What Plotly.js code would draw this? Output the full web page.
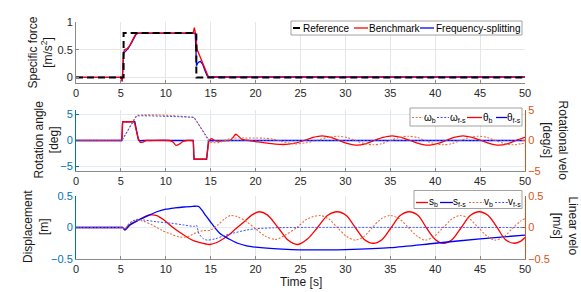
<!DOCTYPE html>
<html><head><meta charset="utf-8">
<script src="https://cdn.plot.ly/plotly-3.0.1.min.js"></script>
<style>html,body{margin:0;padding:0;background:#fff;}#chart{width:581px;height:292px;}</style>
</head><body><div id="chart"></div>
<script>
// ---------- DATA ----------
const xTicks = [0,5,10,15,20,25,30,35,40,45,50];

// Panel 1: specific force [m/s^2]
const tRef   = [0, 5.3, 5.3, 13.4, 13.4, 50];
const fRef   = [0, 0, 0.8, 0.8, 0, 0];
const tBench = [0, 5.0, 5.15, 5.3, 5.4, 5.7, 6.0, 6.3, 6.6, 6.85, 13.05, 13.18, 13.3, 13.5, 14.0, 14.4, 14.75, 15.0, 50];
const fBench = [0, 0, -0.07, 0.45, 0.5, 0.52, 0.58, 0.68, 0.77, 0.8, 0.8, 0.9, 0.8, 0.5, 0.3, 0.14, 0.01, 0, 0];
const tFS    = [0, 5.0, 5.15, 5.3, 5.5, 5.8, 6.1, 6.4, 6.7, 6.95, 13.28, 13.42, 13.6, 13.85, 14.1, 14.35, 14.6, 14.8, 15.2, 50];
const fFS    = [0, 0, -0.07, 0.44, 0.47, 0.52, 0.6, 0.7, 0.78, 0.8, 0.8, 0.21, 0.27, 0.29, 0.24, 0.13, 0.03, 0.01, 0.01, 0.01];

// Panel 2: rotation angle [deg] (left) and rotational velocity [deg/s] (right)
const tThFS = [0, 5.1, 5.2, 6.55, 6.95, 7.2, 7.5, 13.05, 13.15, 14.55, 14.75, 50];
const thFS  = [0, 0, 3.6, 3.6, 0.1, -0.05, 0, 0, -3.6, -3.6, 0, 0];
const tThB  = [0,5.05,5.1,5.2,5.25,6.4,6.45,6.95,7.15,7.45,7.8,8.2,10.4,10.8,11.15,11.5,11.9,12.3,13.0,13.05,13.15,13.2,14.45,14.5,14.85,15.1,15.4,15.8,16.5,17.2,17.5,17.8,18.1,18.5,19.0,20.0,21.0,22.2,23.4,24.4,25.4,26.4,27.4,28.4,29.3,30.3,31.3,32.3,33.2,34.2,35.2,36.2,37.2,38.2,39.2,40.2,41.2,42.1,43.1,44.1,45.1,46.1,47.1,48.1,49.0,50];
const thB   = [0,0,0,3.6,3.6,3.6,3.6,0.3,-0.35,-0.3,0,0,0,-0.3,-0.95,-0.7,-0.2,0,0,0,-3.6,-3.6,-3.6,-3.6,0,0.35,0.05,-0.1,-0.05,0.05,0.6,1.2,0.8,0.2,0.05,-0.2,-0.45,-0.7,-0.75,-0.5,0,0.6,0.9,0.6,0,-0.6,-0.9,-0.6,0,0.6,0.9,0.6,0,-0.6,-0.9,-0.6,0,0.6,0.9,0.6,0,-0.6,-0.9,-0.6,0,0.6];
const tOmB  = [0,5.05,5.1,6.75,6.85,7.5,9.0,10.5,11.5,12.5,13.05,13.15,14.75,14.85,15.3,16.0,16.7,17.4,18.5,20.0,21.0,22.0,23.0,24.4,25.5,26.8,28.0,29.2,30.2,31.1,32.1,33.1,34.1,35.0,36.0,37.0,38.0,38.9,39.9,40.9,41.9,42.8,43.8,44.8,45.8,46.7,47.7,48.7,49.5,50];
const omB   = [0,0,0,4.1,4.15,4.2,4.2,4.1,4.0,3.85,3.8,3.75,0.0,-0.2,-0.35,-0.3,0.1,0.38,0.4,0.4,0.38,0.2,-0.2,-0.55,-0.4,0,0.5,0.7,0.5,0,-0.5,-0.7,-0.5,0,0.5,0.7,0.5,0,-0.5,-0.7,-0.5,0,0.5,0.7,0.5,0,-0.5,-0.7,-0.55,-0.4];
const tOmFS = [0, 5.05, 5.1, 6.75, 6.85, 8.0, 10.0, 11.5, 12.5, 13.05, 13.15, 14.85, 14.95, 15.5, 16.5, 50];
const omFS  = [0, 0, 0, 4.0, 4.05, 4.05, 4.0, 3.95, 3.85, 3.8, 3.75, 0, -0.1, -0.1, 0, 0];

// Panel 3: displacement [m] (left) and linear velocity [m/s] (right)
const tSB = [0,5.1,5.2,5.45,5.8,6.3,7.0,7.6,8.3,9.0,9.8,10.8,11.8,12.8,13.8,14.9,15.8,16.8,17.8,18.8,19.6,20.4,21.3,22.5,23.6,24.7,25.8,26.9,28.0,29.1,30.1,31.1,32.1,33.1,34.1,35.1,36.1,37.1,38.1,39.0,40.0,40.9,41.9,42.9,43.9,44.9,45.9,46.9,47.8,48.8,49.5,50];
const sB  = [0,0,0,-0.03,0.02,0.07,0.12,0.17,0.2,0.19,0.12,0.0,-0.1,-0.19,-0.24,-0.27,-0.23,-0.14,-0.02,0.1,0.2,0.25,0.2,0.0,-0.2,-0.27,-0.18,0.0,0.19,0.25,0.19,0.0,-0.19,-0.25,-0.19,0.0,0.19,0.25,0.19,0.0,-0.19,-0.25,-0.19,0.0,0.19,0.25,0.19,0.0,-0.19,-0.25,-0.22,-0.16];
const tSFS = [0,5.1,5.2,5.45,5.7,6.0,6.5,7.0,7.9,9.0,10,11,12,13,13.5,13.7,14,14.5,15,15.5,16,16.5,17,18,19,20,22,24,26,28,30,35,40,45,50];
const sFS  = [0,0,0,-0.04,-0.01,0.04,0.08,0.12,0.18,0.25,0.29,0.31,0.325,0.335,0.34,0.33,0.28,0.18,0.085,-0.01,-0.09,-0.14,-0.18,-0.25,-0.29,-0.31,-0.335,-0.35,-0.355,-0.355,-0.35,-0.32,-0.25,-0.18,-0.12];
const tVB = [0,5.1,5.2,5.45,5.8,6.3,6.8,7.5,8.5,9.5,10.5,11.5,12.3,13.0,13.5,14.2,15.0,15.8,16.5,17.2,18.0,19.0,20.0,21.0,22.2,23.3,24.6,25.8,27.2,28.2,29.1,30.1,31.1,32.1,33.0,34.0,35.0,36.0,37.0,38.0,38.9,39.9,40.9,41.9,42.8,43.8,44.8,45.8,46.7,47.7,48.7,49.5,50];
const vB  = [0,0,0,-0.02,0.05,0.1,0.12,0.1,0.04,-0.04,-0.1,-0.15,-0.15,-0.11,-0.07,-0.05,-0.04,0.04,0.13,0.19,0.17,0.09,-0.02,-0.13,-0.19,-0.12,0.0,0.14,0.19,0.13,0.0,-0.14,-0.2,-0.14,0.0,0.14,0.19,0.14,0.0,-0.14,-0.2,-0.14,0.0,0.14,0.19,0.14,0.0,-0.14,-0.2,-0.14,0.0,0.1,0.14];
const tVFS = [0,5.1,5.2,5.45,5.8,6.3,6.8,7.5,9.0,10.5,12.0,13.2,13.4,13.7,14.2,14.6,15.5,16.5,17.5,19.0,20.0,22.0,24.0,50];
const vFS  = [0,0,0,-0.03,0.04,0.1,0.13,0.12,0.09,0.07,0.04,0.02,0.04,-0.1,-0.18,-0.2,-0.18,-0.13,-0.09,-0.04,-0.02,-0.005,0,0];

const names1 = ['Reference','Benchmark','Frequency-splitting'];
const names2 = ['ω<sub>b</sub>','ω<sub>f-s</sub>','θ<sub>b</sub>','θ<sub>f-s</sub>'];
const names3 = ['s<sub>b</sub>','s<sub>f-s</sub>','v<sub>b</sub>','v<sub>f-s</sub>'];

// ---------- STYLE ----------
const RED='#FF0000', BLUE='#0000FF', LBLUE='#3a4dff', ORANGE='#E8703C', BLK='#000000';
const AXBLUE='#0072BD', AXORANGE='#D95319', TXT='#262626', AXGRAY='#8a8a8a';
const FONT='Liberation Sans, Arial, Helvetica, sans-serif';
const DOT='2px,1.6px';

const W=581,H=292,ML=76,MR=56,MT=22,MB=33;
const PW=W-ML-MR, PH=H-MT-MB;
const fx = p => (p-ML)/PW;
const fy = p => (H-MB-p)/PH;

function tr(x,y,xa,ya,color,width,dash,shape,name){
  return {x:x,y:y,xaxis:xa,yaxis:ya,type:'scatter',mode:'lines',name:name,showlegend:false,
    hoverinfo:'skip',line:{color:color,width:width,dash:dash||'solid',shape:shape||'linear',smoothing:0.8}};
}
const data = [
  tr(tFS,fFS,'x','y',BLUE,1.3,'solid','linear',names1[2]),
  tr(tBench,fBench,'x','y',RED,1.3,'solid','linear',names1[1]),
  tr(tRef,fRef,'x','y',BLK,2,'7px,4px','linear',names1[0]),
  tr(tThFS,thFS,'x2','y2',BLUE,1.3,'solid','linear',names2[3]),
  tr(tThB,thB,'x2','y2',RED,1.3,'solid','spline',names2[2]),
  tr(tOmB,omB,'x2','y4',ORANGE,1.1,DOT,'spline',names2[0]),
  tr(tOmFS,omFS,'x2','y4',LBLUE,1,DOT,'linear',names2[1]),
  tr(tSB,sB,'x3','y3',RED,1.3,'solid','spline',names3[0]),
  tr(tSFS,sFS,'x3','y3',BLUE,1.3,'solid','spline',names3[1]),
  tr(tVB,vB,'x3','y5',ORANGE,1.1,DOT,'spline',names3[2]),
  tr(tVFS,vFS,'x3','y5',LBLUE,1,DOT,'spline',names3[3])
];

function xax(anchor){
  return {domain:[0,1],anchor:anchor,range:[0,50],tickvals:xTicks,showgrid:true,gridcolor:'#e6e6e6',gridwidth:1,
    zeroline:false,showline:true,linecolor:AXGRAY,linewidth:1,ticks:'inside',ticklen:3,tickcolor:AXGRAY,
    tickfont:{family:FONT,size:11,color:TXT},fixedrange:true};
}
function yax(dom,range,ticks,color,tickcolor,grid,side,overlay,anchor){
  const a={domain:dom,range:range,tickvals:ticks,showgrid:!!grid,gridcolor:grid||'#e6e6e6',zeroline:false,
    showline:true,linecolor:color,linewidth:1,ticks:'inside',ticklen:3,tickcolor:color,
    tickfont:{family:FONT,size:11,color:tickcolor},fixedrange:true,anchor:anchor};
  if(side){a.side=side;}
  if(overlay){a.overlaying=overlay;}
  return a;
}

const shapes=[], annotations=[];
function legend(box, items, cy, tcy){
  shapes.push({type:'rect',xref:'paper',yref:'paper',x0:fx(box[0]),x1:fx(box[1]),y0:fy(box[3]),y1:fy(box[2]),
    line:{color:AXGRAY,width:0.8},fillcolor:'#ffffff',layer:'above'});
  items.forEach(it=>{
    shapes.push({type:'line',xref:'paper',yref:'paper',x0:fx(it.a),x1:fx(it.b),y0:fy(cy),y1:fy(cy),
      line:{color:it.color,width:it.w,dash:it.dash||'solid'},layer:'above'});
    annotations.push({xref:'paper',yref:'paper',x:fx(it.tx),y:fy(tcy),xanchor:'left',yanchor:'middle',
      text:it.name,showarrow:false,borderpad:0,font:{family:FONT,size:10,color:'#000'}});
  });
}
legend([291,522,21,35],[
  {a:293,b:300,color:BLK,w:2,tx:302,name:names1[0]},
  {a:354,b:368,color:RED,w:1.3,tx:368,name:names1[1]},
  {a:420,b:434,color:BLUE,w:1.3,tx:435,name:names1[2]}
],28,28.5);
legend([410,522,108,126],[
  {a:412,b:423,color:ORANGE,w:1.1,dash:DOT,tx:423,name:names2[0]},
  {a:437,b:449,color:LBLUE,w:1,dash:DOT,tx:449,name:names2[1]},
  {a:467,b:482,color:RED,w:1.3,tx:482,name:names2[2]},
  {a:496,b:507,color:BLUE,w:1.3,tx:506,name:names2[3]}
],117.5,118);
legend([414,522,190.5,208.5],[
  {a:416,b:428,color:RED,w:1.3,tx:428,name:names3[0]},
  {a:440,b:453,color:BLUE,w:1.3,tx:452,name:names3[1]},
  {a:469,b:484,color:ORANGE,w:1.1,dash:DOT,tx:483,name:names3[2]},
  {a:495,b:508,color:LBLUE,w:1,dash:DOT,tx:507,name:names3[3]}
],202.5,202);

function title(text,cx,cy,angle){
  annotations.push({xref:'paper',yref:'paper',x:fx(cx),y:fy(cy),xanchor:'center',yanchor:'middle',
    text:text,textangle:angle,showarrow:false,font:{family:FONT,size:12,color:'#1a1a1a'}});
}
title('Specific force<br>[m/s<sup>2</sup>]',40,52.5,-90);
title('Rotation angle<br>[deg]',46.5,140,-90);
title('Displacement<br>[m]',36,227,-90);
title('Rotational velo<br>[deg/s]',554.5,140,90);
title('Linear velo<br>[m/s]',564.5,226,90);
title('Time [s]',300.5,282,0);

const layout = {
  width:W,height:H,margin:{l:ML,r:MR,t:MT,b:MB,pad:0},paper_bgcolor:'#fff',plot_bgcolor:'#fff',
  showlegend:false,font:{family:FONT,size:11,color:TXT},
  xaxis:xax('y'), xaxis2:xax('y2'), xaxis3:xax('y3'),
  yaxis: yax([fy(83),fy(22)],[-0.1,1],[0,0.5,1],AXGRAY,TXT,'#e6e6e6',null,null,'x'),
  yaxis2:yax([fy(171),fy(110)],[-5.85,5.85],[-5,0,5],AXBLUE,AXBLUE,'#e2ecf5',null,null,'x2'),
  yaxis3:yax([fy(259),fy(196)],[-0.5,0.5],[-0.5,0,0.5],AXBLUE,AXBLUE,'#e2ecf5',null,null,'x3'),
  yaxis4:yax([fy(171),fy(110)],[-5,5],[-5,0,5],AXORANGE,AXORANGE,null,'right','y2','x2'),
  yaxis5:yax([fy(259),fy(196)],[-0.5,0.5],[-0.5,0,0.5],AXORANGE,AXORANGE,null,'right','y3','x3'),
  shapes:shapes, annotations:annotations
};
Plotly.newPlot('chart',data,layout,{displayModeBar:false,staticPlot:true}).then(gd=>{
  // drop empty placeholder texts and trailing zero-width baseline-reset tspans
  gd.querySelectorAll('text').forEach(t=>{ if(!t.textContent.replace(/\u200b/g,'').trim()) t.remove(); });
  gd.querySelectorAll('tspan').forEach(s=>{
    if(!s.textContent.replace(/\u200b/g,'').trim() && !s.nextSibling) s.remove();
  });
});
</script></body></html>
